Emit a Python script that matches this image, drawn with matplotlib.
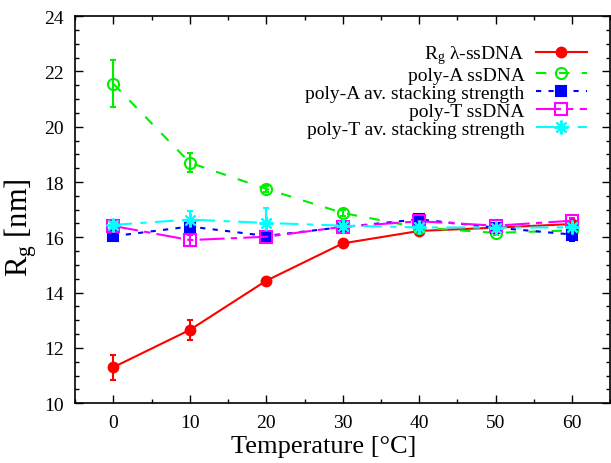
import numpy as np
import matplotlib.pyplot as plt
from matplotlib.ticker import MultipleLocator

plt.rcParams['font.family'] = ['Liberation Serif', 'DejaVu Serif']
plt.rcParams['mathtext.fontset'] = 'custom'
plt.rcParams['mathtext.rm'] = 'Liberation Serif'
plt.rcParams['mathtext.it'] = 'Liberation Serif:italic'
plt.rcParams['font.size'] = 14

# temperatures [C]
temps = [0, 10, 20, 30, 40, 50, 60]

# Rg lambda-ssDNA
rg_lambda = [11.3, 12.65, 14.43, 15.78, 16.23, 16.35, 16.48]
rg_lambda_err = [0.45, 0.35, 0.08, 0.08, 0.06, 0.05, 0.05]

# poly-A ssDNA
polyA = [21.55, 18.7, 17.75, 16.88, 16.35, 16.16, 16.25]
polyA_err = [0.85, 0.35, 0.1, 0.1, 0.08, 0.08, 0.08]

# poly-A av. stacking strength
polyA_stack = [16.04, 16.39, 16.05, 16.37, 16.65, 16.35, 16.1]
polyA_stack_err = [0.1, 0.12, 0.08, 0.08, 0.12, 0.08, 0.25]

# poly-T ssDNA
polyT = [16.41, 15.9, 16.02, 16.38, 16.58, 16.42, 16.6]
polyT_err = [0.12, 0.2, 0.1, 0.08, 0.1, 0.1, 0.1]

# poly-T av. stacking strength
polyT_stack = [16.45, 16.64, 16.52, 16.42, 16.36, 16.35, 16.36]
polyT_stack_err = [0.12, 0.32, 0.55, 0.08, 0.1, 0.08, 0.1]

fig = plt.figure(figsize=(6.11, 4.64), dpi=100)
ax = fig.add_axes([0.123, 0.129, 0.876, 0.834])

common = dict(lw=1.5, capsize=2.5, elinewidth=1.5, capthick=1.5)

series = [
    (rg_lambda, rg_lambda_err, '#ff0000', '-', 'o', 7, None, r'R$_\mathrm{g}$ λ-ssDNA'),
    (polyA, polyA_err, '#00ee00', (0, (5, 6)), 'o', 8, 'none', 'poly-A ssDNA'),
    (polyA_stack, polyA_stack_err, '#0000ff', (0, (2.5, 3.5)), 's', 7.5, None,
     'poly-A av. stacking strength'),
    (polyT, polyT_err, '#ff00ff', (0, (12, 3, 3, 3)), 's', 8, 'none', 'poly-T ssDNA'),
    (polyT_stack, polyT_stack_err, '#00ffff', (0, (9, 4, 3, 4)), (8, 2, 0), 10, None,
     'poly-T av. stacking strength'),
]

handles = []
for vals, err, col, ls, mk, ms, mfc, lab in series:
    c = ax.errorbar(temps, vals, yerr=err, color=col, ls=ls, marker=mk, ms=ms,
                    mfc=mfc if mfc else col, mew=1.5, label=lab, **common)
    handles.append(c.lines[0])

ax.set_xlim(-5, 65)
ax.set_ylim(10, 24)
ax.xaxis.set_major_locator(MultipleLocator(10))
ax.xaxis.set_minor_locator(MultipleLocator(5))
ax.yaxis.set_major_locator(MultipleLocator(2))
ax.yaxis.set_minor_locator(MultipleLocator(0.5))
ax.tick_params(which='both', direction='in', top=True, right=True, width=1)
ax.tick_params(which='major', length=6, pad=8)
ax.tick_params(which='minor', length=3)
for s in ax.spines.values():
    s.set_linewidth(1.2)

ax.set_xlabel('Temperature [°C]', fontsize=19)
ax.set_ylabel(r'R$_\mathrm{g}$ [nm]', fontsize=22)
ax.xaxis.set_label_coords(0.464, -0.083)
ax.yaxis.set_label_coords(-0.067, 0.455)

leg = ax.legend(handles, [s[-1] for s in series], loc='upper right',
                bbox_to_anchor=(0.974, 0.955), frameon=False,
                markerfirst=False, borderpad=0, handlelength=2.6, handletextpad=0.6,
                labelspacing=0.02, fontsize=14)

fig.savefig('out.png', dpi=100)
